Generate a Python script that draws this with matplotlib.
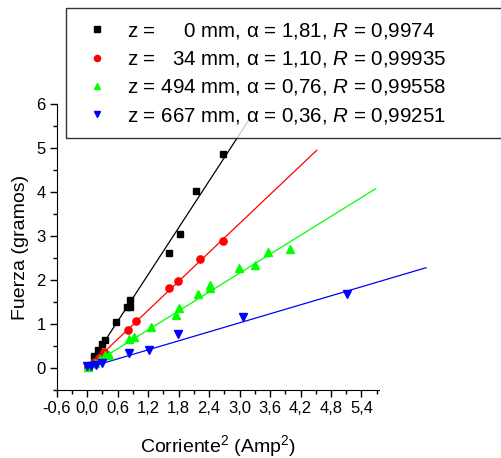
import numpy as np
import matplotlib
matplotlib.use("Agg")
import matplotlib.pyplot as plt
from matplotlib.ticker import MultipleLocator, FuncFormatter

plt.rcParams['font.family'] = ['Liberation Sans', 'DejaVu Sans']
plt.rcParams['mathtext.fontset'] = 'custom'
plt.rcParams['mathtext.rm'] = 'Liberation Sans'
plt.rcParams['mathtext.it'] = 'Liberation Sans:italic'

# datos: corriente^2 (Amp^2) y fuerza (gramos)
x_0mm = [0.02, 0.14, 0.21, 0.30, 0.36, 0.57, 0.78, 0.84, 0.85, 1.62, 1.83, 2.15, 2.67]
y_0mm = [0.05, 0.28, 0.41, 0.55, 0.65, 1.06, 1.38, 1.40, 1.54, 2.62, 3.05, 4.03, 4.87]

x_34mm = [0.02, 0.14, 0.24, 0.34, 0.80, 0.97, 1.62, 1.79, 2.23, 2.67]
y_34mm = [0.03, 0.13, 0.23, 0.36, 0.87, 1.07, 1.82, 1.99, 2.48, 2.89]

x_494mm = [0.02, 0.15, 0.26, 0.36, 0.44, 0.82, 0.93, 1.25, 1.75, 1.80, 2.18,
           2.42, 2.42, 2.98, 3.31, 3.56, 4.00]
y_494mm = [0.02, 0.12, 0.22, 0.30, 0.31, 0.67, 0.70, 0.93, 1.21, 1.37, 1.69,
           1.82, 1.90, 2.27, 2.35, 2.64, 2.70]

x_667mm = [0.00, 0.08, 0.18, 0.30, 0.83, 1.22, 1.79, 3.06, 5.11]
y_667mm = [0.05, 0.06, 0.08, 0.12, 0.34, 0.42, 0.78, 1.17, 1.69]

# rectas de ajuste (pendiente, ordenada, x inicial, x final)
fit_slope = [1.77, 1.095, 0.716, 0.341]
fit_icpt = [0.0, 0.0, 0.01, 0.007]
fit_x0 = [-0.02, -0.02, -0.02, -0.02]
fit_x1 = [3.2, 4.52, 5.68, 6.67]

labels = ["z =     0 mm, α = 1,81, $\\mathit{R}$ = 0,9974",
          "z =   34 mm, α = 1,10, $\\mathit{R}$ = 0,99935",
          "z = 494 mm, α = 0,76, $\\mathit{R}$ = 0,99558",
          "z = 667 mm, α = 0,36, $\\mathit{R}$ = 0,99251"]
colors = ['black', '#ff0000', '#00ff00', '#0000ff']
markers = ['s', 'o', '^', 'v']
msizes = [4.8, 5.2, 5.6, 5.6]

xs = [x_0mm, x_34mm, x_494mm, x_667mm]
ys = [y_0mm, y_34mm, y_494mm, y_667mm]

fig = plt.figure(figsize=(5.01, 4.58), dpi=100)
ax = fig.add_axes([0.113, 0.148, 0.644, 0.625])

for i in range(4):
    ax.plot(xs[i], ys[i], linestyle='none', marker=markers[i], color=colors[i],
            markersize=msizes[i], label=labels[i], zorder=3, clip_on=False)
    xx = np.array([fit_x0[i], fit_x1[i]])
    ax.plot(xx, fit_slope[i] * xx + fit_icpt[i], color=colors[i], lw=0.9,
            zorder=2, clip_on=False)

ax.set_xlim(-0.6, 5.75)
ax.set_ylim(-0.5, 6.0)
ax.spines['top'].set_visible(False)
ax.spines['right'].set_visible(False)
ax.xaxis.set_major_locator(MultipleLocator(0.6))
ax.xaxis.set_minor_locator(MultipleLocator(0.3))
ax.yaxis.set_major_locator(MultipleLocator(1))
ax.yaxis.set_minor_locator(MultipleLocator(0.5))
ax.xaxis.set_major_formatter(FuncFormatter(lambda v, p: ("%.1f" % v).replace('.', ',').replace('-0,0', '0,0')))
ax.yaxis.set_major_formatter(FuncFormatter(lambda v, p: "%d" % round(v)))
ax.tick_params(which='major', direction='out', length=5, width=1, labelsize=12, pad=3)
ax.tick_params(which='minor', direction='out', length=3, width=1)

ax.set_xlabel("Corriente$^2$ (Amp$^2$)", fontsize=14, labelpad=12)
ax.set_ylabel("Fuerza (gramos)", fontsize=14, labelpad=5)

leg = ax.legend(loc='upper left', bbox_to_anchor=(0.132, 0.0, 0.95, 0.982),
                bbox_transform=fig.transFigure, mode='expand', numpoints=1,
                fontsize=14.8, frameon=True, fancybox=False, borderpad=0.62,
                labelspacing=0.4, handlelength=1.74, handletextpad=0.58,
                borderaxespad=0, markerscale=0.85)
leg.get_frame().set_edgecolor('black')
leg.get_frame().set_linewidth(1.0)
leg.set_zorder(10)

fig.savefig("out.png", dpi=100)
